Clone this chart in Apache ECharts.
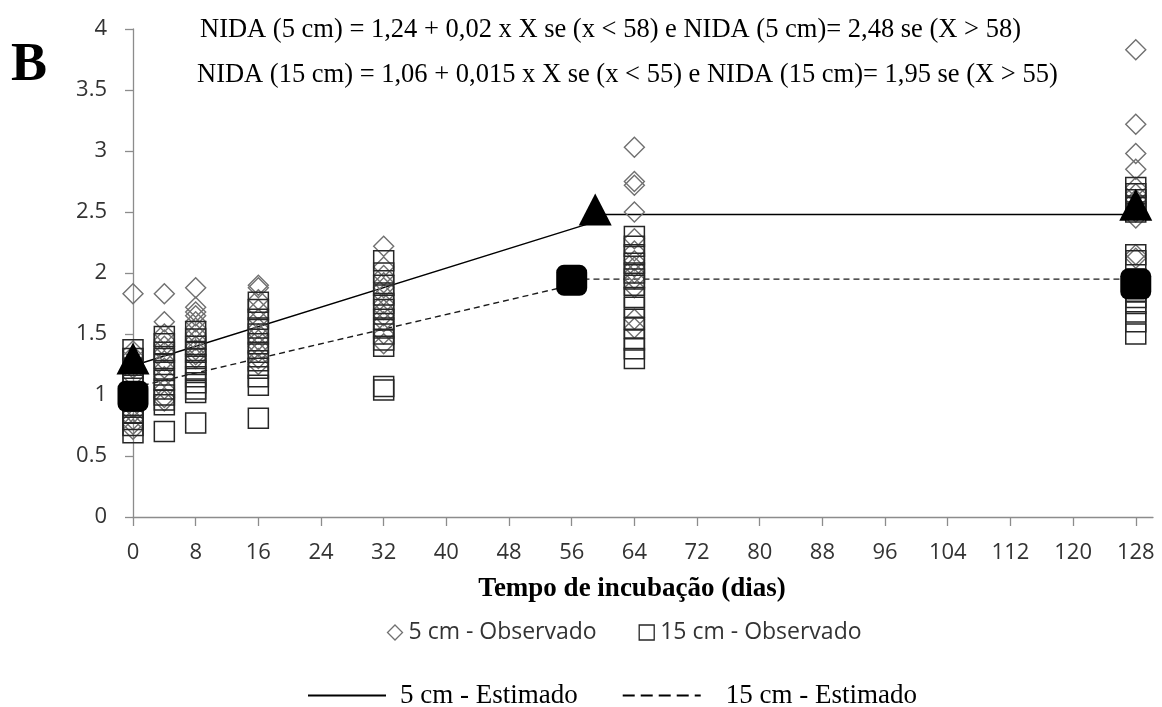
<!DOCTYPE html>
<html>
<head>
<meta charset="utf-8">
<script src="https://cdn.jsdelivr.net/npm/echarts@6/dist/echarts.min.js"></script>
<style>
  html, body { margin: 0; padding: 0; background: #fff; }
  #chart { width: 1162px; height: 707px; }
</style>
</head>
<body>
<div id="chart"></div>
<script>
// Incubation days where samples were taken
const days = [0, 4, 8, 16, 32, 64, 128];

// Observed NIDA, 5 cm depth (one list per sampling day)
const obs5 = [
  [1.83, 1.36, 1.32, 1.28, 1.22, 1.15, 0.95, 0.90, 0.85, 0.80, 0.76, 0.72],
  [1.83, 1.60, 1.50, 1.45, 1.40, 1.35, 1.28, 1.22, 1.15, 1.05, 0.98, 0.95],
  [1.88, 1.72, 1.68, 1.65, 1.60, 1.55, 1.50, 1.45, 1.40, 1.37, 1.33, 1.30],
  [1.90, 1.88, 1.78, 1.70, 1.62, 1.55, 1.50, 1.45, 1.40, 1.35, 1.30, 1.25],
  [2.22, 2.05, 1.98, 1.92, 1.88, 1.82, 1.75, 1.70, 1.65, 1.60, 1.50, 1.42],
  [3.03, 2.75, 2.72, 2.50, 2.28, 2.18, 2.10, 2.05, 2.00, 1.95, 1.88, 1.62, 1.55],
  [3.83, 3.22, 2.98, 2.85, 2.70, 2.65, 2.60, 2.55, 2.50, 2.45, 2.15, 2.12]
];

// Observed NIDA, 15 cm depth
const obs15 = [
  [1.37, 1.30, 1.22, 1.15, 1.08, 1.00, 0.95, 0.90, 0.85, 0.80, 0.75, 0.69],
  [1.48, 1.42, 1.35, 1.30, 1.25, 1.20, 1.12, 1.05, 1.00, 0.96, 0.92, 0.70],
  [1.52, 1.46, 1.40, 1.35, 1.30, 1.25, 1.20, 1.15, 1.10, 1.05, 1.02, 0.77],
  [1.76, 1.70, 1.62, 1.55, 1.50, 1.42, 1.35, 1.28, 1.22, 1.15, 1.08, 0.81],
  [2.10, 2.00, 1.90, 1.82, 1.75, 1.70, 1.62, 1.55, 1.50, 1.45, 1.40, 1.07, 1.04],
  [2.30, 2.22, 2.15, 2.08, 2.00, 1.95, 1.90, 1.80, 1.72, 1.62, 1.55, 1.45, 1.38, 1.30],
  [2.70, 2.65, 2.60, 2.55, 2.50, 2.15, 2.10, 1.95, 1.85, 1.80, 1.75, 1.68, 1.60, 1.50]
];

// Segmented model: NIDA(5 cm) = 1,24 + 0,02x (x < 58), 2,48 (x > 58)
const est5X = [0, 58, 58, 128];
const est5Y = [1.24, 2.40, 2.48, 2.48];
// NIDA(15 cm) = 1,06 + 0,015x (x < 55), 1,95 (x > 55)
const est15X = [0, 55, 55, 128];
const est15Y = [1.06, 1.885, 1.95, 1.95];

// Highlighted estimate points
const mark5X = [0, 59, 128];
const mark5Y = [1.30, 2.52, 2.56];
const mark15X = [0, 56, 128];
const mark15Y = [0.99, 1.94, 1.91];

const xTicks = [0, 8, 16, 24, 32, 40, 48, 56, 64, 72, 80, 88, 96, 104, 112, 120, 128];
const yTicks = [0, 0.5, 1, 1.5, 2, 2.5, 3, 3.5, 4];

const eq5 = 'NIDA (5 cm) = 1,24 + 0,02 x X se (x < 58) e NIDA (5 cm)= 2,48 se (X > 58)';
const eq15 = 'NIDA (15 cm) = 1,06 + 0,015 x X se (x < 55) e NIDA (15 cm)= 1,95 se (X > 55)';

const pairs = (xs, ys) => xs.map((x, i) => [x, ys[i]]);
const obsPairs = (lists) => days.flatMap((d, i) => lists[i].map(v => [d, v]));

const axisGray = '#8c8c8c';
const labelFont = 'Open Sans';
const serif = 'Liberation Serif';
const labelColor = '#333333';

const diamondStyle = { color: 'none', borderColor: '#707070', borderWidth: 1.4, opacity: 1 };
const squareStyle = { color: 'none', borderColor: '#262626', borderWidth: 1.5, opacity: 1 };

const chart = echarts.init(document.getElementById('chart'), null, { renderer: 'canvas' });

chart.setOption({
  animation: false,
  backgroundColor: '#fff',
  grid: { left: 133, right: 9, top: 29, bottom: 190, containLabel: false },
  xAxis: {
    type: 'value',
    min: 0,
    max: 130.2,
    splitLine: { show: false },
    axisLine: { lineStyle: { color: axisGray, width: 1.3 } },
    axisTick: { show: true, length: 9, customValues: xTicks, lineStyle: { color: axisGray, width: 1.3 } },
    axisLabel: {
      customValues: xTicks,
      margin: 25,
      fontFamily: labelFont,
      fontSize: 22,
      color: labelColor
    }
  },
  yAxis: {
    type: 'value',
    min: 0,
    max: 4,
    interval: 0.5,
    splitLine: { show: false },
    axisLine: { show: true, lineStyle: { color: axisGray, width: 1.3 } },
    axisTick: { show: true, length: 8, lineStyle: { color: axisGray, width: 1.3 } },
    axisLabel: {
      customValues: yTicks,
      margin: 26,
      fontFamily: labelFont,
      fontSize: 22,
      color: labelColor
    }
  },
  legend: [
    {
      left: 380,
      top: 616,
      itemWidth: 15,
      itemHeight: 15,
      itemGap: 40,
      textStyle: { fontFamily: labelFont, fontSize: 23, color: labelColor, padding: [0, 0, 0, 1] },
      data: [
        { name: '5 cm - Observado', icon: 'diamond', itemStyle: { color: 'none', borderColor: '#707070', borderWidth: 1.3 } },
        { name: '15 cm - Observado', icon: 'rect', itemStyle: { color: 'none', borderColor: '#262626', borderWidth: 1.3 } }
      ]
    },
    {
      left: 302,
      top: 677,
      itemWidth: 78,
      itemHeight: 14,
      itemGap: 44,
      itemStyle: { opacity: 0 },
      textStyle: { fontFamily: serif, fontSize: 27, color: '#000', padding: [0, 0, 0, 9] },
      data: [
        { name: '5 cm - Estimado', lineStyle: { width: 2, type: 'solid', color: '#000' } },
        {
          name: '15 cm - Estimado',
          lineStyle: { width: 2, type: [12, 6], color: '#000' },
          textStyle: { padding: [0, 0, 0, 20] }
        }
      ]
    }
  ],
  graphic: [
    { type: 'text', x: 11, y: 66, style: { text: 'B', font: 'bold 54px "Liberation Serif"', fill: '#000', verticalAlign: 'middle' } },
    { type: 'text', x: 200, y: 30, style: { text: eq5, font: '26.5px "Liberation Serif"', fill: '#000', verticalAlign: 'middle' } },
    { type: 'text', x: 197, y: 75, style: { text: eq15, font: '26.5px "Liberation Serif"', fill: '#000', verticalAlign: 'middle' } },
    {
      type: 'text', x: 632, y: 589,
      style: { text: 'Tempo de incubação (dias)', font: 'bold 27px "Liberation Serif"', fill: '#000', align: 'center', verticalAlign: 'middle' }
    }
  ],
  series: [
    {
      name: '5 cm - Observado',
      type: 'scatter',
      symbol: 'diamond',
      symbolSize: 20,
      itemStyle: diamondStyle,
      data: obsPairs(obs5),
      z: 3
    },
    {
      name: '15 cm - Observado',
      type: 'scatter',
      symbol: 'rect',
      symbolSize: 20,
      itemStyle: squareStyle,
      data: obsPairs(obs15),
      z: 3
    },
    {
      name: '5 cm - Estimado',
      type: 'line',
      symbol: 'none',
      lineStyle: { color: '#000', width: 1.4, type: 'solid' },
      itemStyle: { color: '#000' },
      data: pairs(est5X, est5Y),
      z: 2
    },
    {
      name: '15 cm - Estimado',
      type: 'line',
      symbol: 'none',
      lineStyle: { color: '#1a1a1a', width: 1.4, type: [6, 4] },
      itemStyle: { color: '#1a1a1a' },
      data: pairs(est15X, est15Y),
      z: 2
    },
    {
      name: 'marcas 5 cm',
      type: 'scatter',
      symbol: 'triangle',
      symbolSize: [33, 32],
      itemStyle: { color: '#000', opacity: 1 },
      data: pairs(mark5X, mark5Y),
      z: 5
    },
    {
      name: 'marcas 15 cm',
      type: 'scatter',
      symbol: 'roundRect',
      symbolSize: 31,
      itemStyle: { color: '#000', opacity: 1 },
      data: pairs(mark15X, mark15Y),
      z: 5
    }
  ]
});
</script>
</body>
</html>
